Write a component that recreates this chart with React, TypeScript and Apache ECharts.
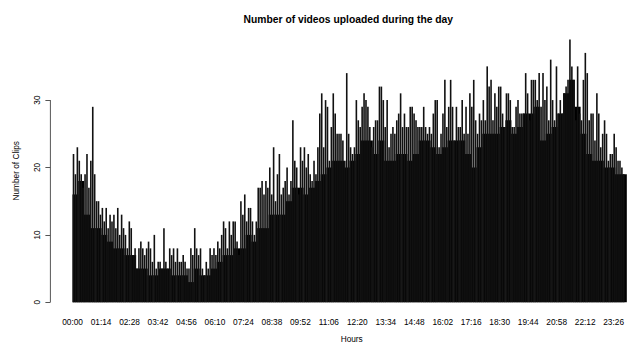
import React, { useEffect, useRef } from 'react';
import * as echarts from 'echarts';

const FONT = "'Liberation Sans', Arial, Helvetica, sans-serif";
const TITLE = 'Number of videos uploaded during the day';

// x-axis tick positions (minutes since midnight) and their labels
const tickMinutes = [0, 74, 148, 222, 296, 370, 444, 518, 592, 666, 740, 814, 888, 962, 1036, 1110, 1184, 1258, 1332, 1406];
const tickLabels = ['00:00', '01:14', '02:28', '03:42', '04:56', '06:10', '07:24', '08:38', '09:52', '11:06', '12:20', '13:34', '14:48', '16:02', '17:16', '18:30', '19:44', '20:58', '22:12', '23:26'];
const yTicks = [0, 10, 20, 30];

// peak clip counts, one reading per 5-minute slot (288 slots)
const peakCounts = [
  22, 19, 23, 21, 19, 17, 19, 22, 17, 21, 29, 19, 15, 15, 13, 14, 12, 14, 11, 13, 12, 13, 11, 14, 10, 13, 11, 10, 8, 12, 11, 7, 8, 5, 8, 9, 8,
  7, 8, 9, 8, 6, 10, 5, 6, 6, 5, 11, 6, 5, 8, 7, 8, 6, 8, 6, 6, 7, 6, 5, 5, 8, 7, 11, 8, 7, 8, 5, 4, 6, 5, 8, 7, 8, 7, 9, 8, 10,
  12, 11, 8, 12, 10, 12, 12, 9, 7, 15, 13, 16, 12, 14, 14, 12, 10, 12, 17, 17, 18, 16, 18, 17, 20, 16, 23, 15, 19, 22, 16, 17, 18, 20, 16, 18, 27, 21, 20, 16, 23,
  21, 23, 20, 22, 19, 18, 21, 19, 23, 28, 31, 23, 30, 29, 21, 26, 31, 28, 25, 25, 25, 24, 21, 34, 25, 23, 22, 23, 30, 27, 26, 29, 31, 30, 29, 26, 23, 26, 27, 27, 32,
  32, 30, 26, 30, 23, 25, 26, 25, 27, 28, 31, 26, 28, 26, 26, 29, 29, 28, 27, 26, 26, 26, 29, 26, 25, 26, 25, 28, 30, 30, 23, 25, 28, 33, 26, 29, 33, 29, 24, 29, 26,
  26, 30, 25, 29, 25, 31, 29, 33, 27, 25, 28, 27, 30, 27, 35, 32, 33, 27, 31, 29, 32, 32, 28, 26, 31, 31, 30, 26, 26, 29, 30, 28, 28, 28, 34, 31, 27, 33, 33, 33, 30,
  34, 29, 34, 30, 32, 27, 36, 30, 27, 35, 28, 30, 28, 31, 32, 33, 39, 35, 33, 27, 35, 28, 27, 33, 37, 34, 27, 28, 28, 24, 31, 28, 23, 25, 27, 25, 21, 22, 22, 25, 23, 21, 21, 20,
  19, 18,
];

// typical (floor) clip counts, one reading per 15-minute slot (96 slots)
const baseCounts = [
  16, 18, 13, 11, 11, 10, 9, 8, 8, 7, 7, 5, 5,
  4, 4, 5, 5, 4, 4, 4, 3, 5, 4, 4, 5, 6,
  7, 7, 8, 8, 10, 9, 11, 11, 13, 13, 13, 15, 17, 17,
  16, 17, 18, 19, 20, 21, 21, 20, 21, 22, 24, 24, 22, 24,
  21, 21, 22, 22, 21, 22, 24, 24, 23, 22, 23, 24, 24, 24,
  22, 20, 23, 25, 25, 25, 26, 27, 25, 26, 28, 28, 29,
  24, 25, 26, 28, 31, 33, 29, 25, 22, 21, 21, 20, 20, 19, 19,
];

const xMin = -57.56;
// the plot region is cropped at the right edge of the picture
const xMax = 1429.3;

export default function App() {
  const ref = useRef<HTMLDivElement>(null);

  useEffect(() => {
    const chart = echarts.init(ref.current as HTMLDivElement, null, { renderer: 'svg' });
    const textGraphics = [
      {
        type: 'text',
        x: 348.3,
        y: 19.5,
        style: { text: TITLE, font: `bold 10.3px ${FONT}`, align: 'center', verticalAlign: 'middle', fill: '#000' },
      },
      {
        type: 'text',
        x: 351.7,
        y: 338.5,
        style: { text: 'Hours', font: `8.3px ${FONT}`, align: 'center', verticalAlign: 'middle', fill: '#000' },
      },
    ];
    chart.setOption({
      animation: false,
      grid: { left: 50.4, right: 0, top: 28.9, bottom: 31.2 },
      xAxis: [
        {
          type: 'value',
          min: xMin,
          max: xMax,
          axisLine: { show: false, onZero: false },
          axisTick: { show: false },
          splitLine: { show: false },
          axisLabel: {
            customValues: tickMinutes,
            formatter: (v: number) => {
              const i = tickMinutes.indexOf(Math.round(v));
              return i >= 0 ? tickLabels[i] : '';
            },
            fontSize: 8.3,
            fontFamily: FONT,
            color: '#000',
            margin: 5,
          },
        },
        { type: 'value', min: xMin, max: xMax, show: false, axisLine: { onZero: false } },
      ],
      yAxis: {
        type: 'value',
        min: -1.56,
        max: 40.56,
        splitLine: { show: false },
        axisLine: { show: false, onZero: false },
        axisTick: { show: true, customValues: yTicks, length: 5, lineStyle: { color: '#555', width: 1 } },
        axisLabel: { customValues: yTicks, rotate: 90, margin: 9, fontSize: 8.3, fontFamily: FONT, color: '#000' },
        name: 'Number of Clips',
        nameLocation: 'middle',
        nameGap: 30,
        nameTextStyle: { fontSize: 8.3, fontFamily: FONT, color: '#000' },
      },
      graphic: textGraphics,
      series: [
        {
          type: 'bar',
          xAxisIndex: 0,
          data: baseCounts.map((v, i) => [i * 15 + 7.5, v]),
          barWidth: 6,
          itemStyle: { color: '#000' },
          silent: true,
        },
        {
          type: 'bar',
          xAxisIndex: 1,
          data: peakCounts.map((v, i) => [i * 5 + 2.5, v]),
          barWidth: 1.6,
          itemStyle: { color: '#111' },
          silent: true,
        },
      ],
    });

    // partial y-axis line from the first to the last tick, as R draws it
    const p0 = chart.convertToPixel({ gridIndex: 0 }, [xMin, yTicks[0]]) as number[];
    const p1 = chart.convertToPixel({ gridIndex: 0 }, [xMin, yTicks[yTicks.length - 1]]) as number[];
    if (p0 && p1) {
      chart.setOption({
        graphic: [
          ...textGraphics,
          {
            type: 'line',
            shape: { x1: p0[0], y1: p0[1], x2: p1[0], y2: p1[1] },
            style: { stroke: '#555', lineWidth: 1 },
            silent: true,
          },
        ],
      });
    }
    return () => chart.dispose();
  }, []);

  return <div ref={ref} style={{ position: 'absolute', left: 0, top: 0, width: 627, height: 344 }} />;
}
